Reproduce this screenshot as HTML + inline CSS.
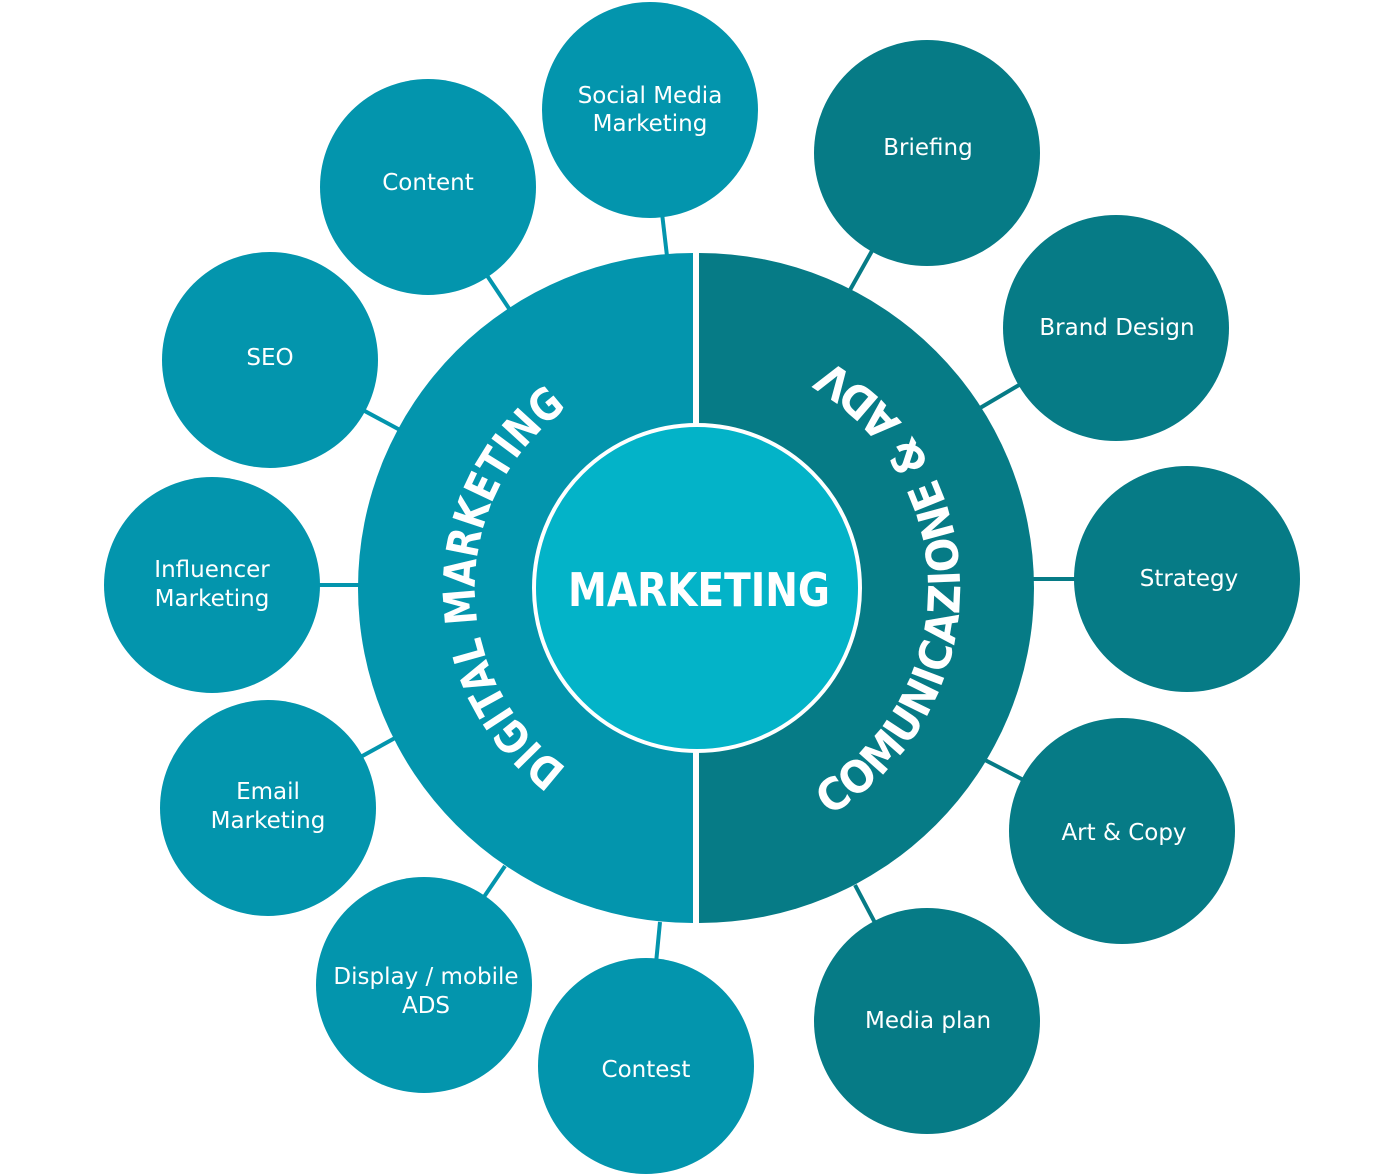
<!DOCTYPE html>
<html><head><meta charset="utf-8"><style>
html,body{margin:0;padding:0;background:#fff;}
svg{display:block;}
text{font-family:"DejaVu Sans","Liberation Sans",sans-serif;fill:#fff;}
</style></head><body>
<svg width="1400" height="1176" viewBox="0 0 1400 1176" xmlns="http://www.w3.org/2000/svg">
<defs>
<path id="lp" d="M697,810 A222,222 0 0 1 697,366"/>
<path id="rp" d="M697,851 A263,263 0 0 0 697,325"/>
</defs>
<g stroke-width="4">
<g stroke="#0395ad">
<line x1="650" y1="110" x2="667" y2="256"/>
<line x1="428" y1="187" x2="510" y2="310"/>
<line x1="270" y1="360" x2="400" y2="430"/>
<line x1="212" y1="585" x2="362" y2="585"/>
<line x1="268" y1="808" x2="395" y2="738"/>
<line x1="424" y1="985" x2="505" y2="866"/>
<line x1="646" y1="1066" x2="660" y2="922"/>
</g>
<g stroke="#067b86">
<line x1="927" y1="153" x2="850" y2="290"/>
<line x1="1116" y1="328" x2="980" y2="408"/>
<line x1="1187" y1="579" x2="1028" y2="579"/>
<line x1="1122" y1="831" x2="985" y2="760"/>
<line x1="927" y1="1021" x2="855" y2="885"/>
</g>
</g>
<path d="M693,253 A335,335 0 0 0 693,923 Z" fill="#0395ad"/>
<path d="M699,253 A335,335 0 0 1 699,923 Z" fill="#067b86"/>
<circle cx="697" cy="588" r="163" fill="#03b3c8" stroke="#fff" stroke-width="4"/>
<text x="699" y="606" font-size="46" font-weight="bold" text-anchor="middle" textLength="262" lengthAdjust="spacingAndGlyphs">MARKETING</text>
<text font-size="44" font-weight="bold"><textPath href="#lp" startOffset="50%" text-anchor="middle" textLength="420" lengthAdjust="spacingAndGlyphs">DIGITAL MARKETING</textPath></text>
<text font-size="44" font-weight="bold"><textPath href="#rp" startOffset="50%" text-anchor="middle" textLength="550" lengthAdjust="spacingAndGlyphs">COMUNICAZIONE &amp; ADV</textPath></text>
<g fill="#0395ad">
<circle cx="650" cy="110" r="108"/>
<circle cx="428" cy="187" r="108"/>
<circle cx="270" cy="360" r="108"/>
<circle cx="212" cy="585" r="108"/>
<circle cx="268" cy="808" r="108"/>
<circle cx="424" cy="985" r="108"/>
<circle cx="646" cy="1066" r="108"/>
</g>
<g fill="#067b86">
<circle cx="927" cy="153" r="113"/>
<circle cx="1116" cy="328" r="113"/>
<circle cx="1187" cy="579" r="113"/>
<circle cx="1122" cy="831" r="113"/>
<circle cx="927" cy="1021" r="113"/>
</g>
<g font-size="23" text-anchor="middle">
<text x="650" y="103">Social Media</text><text x="650" y="131">Marketing</text>
<text x="428" y="190">Content</text>
<text x="270" y="365">SEO</text>
<text x="212" y="577">Influencer</text><text x="212" y="606">Marketing</text>
<text x="268" y="799">Email</text><text x="268" y="828">Marketing</text>
<text x="426" y="984">Display / mobile</text><text x="426" y="1013">ADS</text>
<text x="646" y="1077">Contest</text>
<text x="928" y="155">Briefing</text>
<text x="1117" y="335">Brand Design</text>
<text x="1189" y="586">Strategy</text>
<text x="1124" y="840">Art &amp; Copy</text>
<text x="928" y="1028">Media plan</text>
</g>
</svg>
</body></html>
